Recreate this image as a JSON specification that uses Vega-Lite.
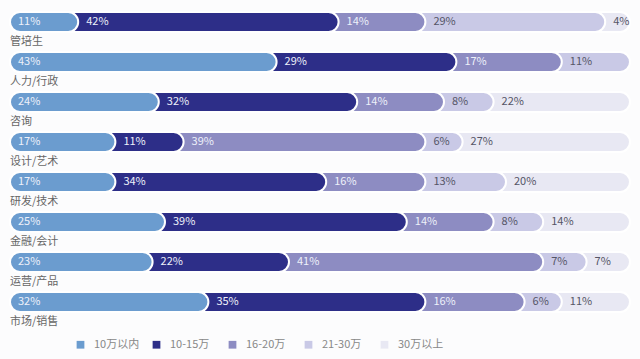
{
  "$schema": "https://vega.github.io/schema/vega-lite/v6.json",
  "autosize": "none",
  "width": 620,
  "height": 320,
  "padding": {"left": 10, "top": 2, "right": 10, "bottom": 37},
  "background": "#fcfcfd",
  "config": {"view": {"stroke": null}, "font": "Noto Sans CJK SC"},
  "data": {
    "values": [
      {"category": "管培生", "bracket": "10万以内", "k": 1, "value": 11},
      {"category": "管培生", "bracket": "10-15万", "k": 2, "value": 42},
      {"category": "管培生", "bracket": "16-20万", "k": 3, "value": 14},
      {"category": "管培生", "bracket": "21-30万", "k": 4, "value": 29},
      {"category": "管培生", "bracket": "30万以上", "k": 5, "value": 4},
      {"category": "人力/行政", "bracket": "10万以内", "k": 1, "value": 43},
      {"category": "人力/行政", "bracket": "10-15万", "k": 2, "value": 29},
      {"category": "人力/行政", "bracket": "16-20万", "k": 3, "value": 17},
      {"category": "人力/行政", "bracket": "21-30万", "k": 4, "value": 11},
      {"category": "咨询", "bracket": "10万以内", "k": 1, "value": 24},
      {"category": "咨询", "bracket": "10-15万", "k": 2, "value": 32},
      {"category": "咨询", "bracket": "16-20万", "k": 3, "value": 14},
      {"category": "咨询", "bracket": "21-30万", "k": 4, "value": 8},
      {"category": "咨询", "bracket": "30万以上", "k": 5, "value": 22},
      {"category": "设计/艺术", "bracket": "10万以内", "k": 1, "value": 17},
      {"category": "设计/艺术", "bracket": "10-15万", "k": 2, "value": 11},
      {"category": "设计/艺术", "bracket": "16-20万", "k": 3, "value": 39},
      {"category": "设计/艺术", "bracket": "21-30万", "k": 4, "value": 6},
      {"category": "设计/艺术", "bracket": "30万以上", "k": 5, "value": 27},
      {"category": "研发/技术", "bracket": "10万以内", "k": 1, "value": 17},
      {"category": "研发/技术", "bracket": "10-15万", "k": 2, "value": 34},
      {"category": "研发/技术", "bracket": "16-20万", "k": 3, "value": 16},
      {"category": "研发/技术", "bracket": "21-30万", "k": 4, "value": 13},
      {"category": "研发/技术", "bracket": "30万以上", "k": 5, "value": 20},
      {"category": "金融/会计", "bracket": "10万以内", "k": 1, "value": 25},
      {"category": "金融/会计", "bracket": "10-15万", "k": 2, "value": 39},
      {"category": "金融/会计", "bracket": "16-20万", "k": 3, "value": 14},
      {"category": "金融/会计", "bracket": "21-30万", "k": 4, "value": 8},
      {"category": "金融/会计", "bracket": "30万以上", "k": 5, "value": 14},
      {"category": "运营/产品", "bracket": "10万以内", "k": 1, "value": 23},
      {"category": "运营/产品", "bracket": "10-15万", "k": 2, "value": 22},
      {"category": "运营/产品", "bracket": "16-20万", "k": 3, "value": 41},
      {"category": "运营/产品", "bracket": "21-30万", "k": 4, "value": 7},
      {"category": "运营/产品", "bracket": "30万以上", "k": 5, "value": 7},
      {"category": "市场/销售", "bracket": "10万以内", "k": 1, "value": 32},
      {"category": "市场/销售", "bracket": "10-15万", "k": 2, "value": 35},
      {"category": "市场/销售", "bracket": "16-20万", "k": 3, "value": 16},
      {"category": "市场/销售", "bracket": "21-30万", "k": 4, "value": 6},
      {"category": "市场/销售", "bracket": "30万以上", "k": 5, "value": 11}
    ]
  },
  "transform": [
    {"stack": "value", "groupby": ["category"], "sort": [{"field": "k", "order": "ascending"}], "as": ["x0", "x1"]}
  ],
  "encoding": {
    "y": {
      "field": "category",
      "type": "nominal",
      "sort": ["管培生", "人力/行政", "咨询", "设计/艺术", "研发/技术", "金融/会计", "运营/产品", "市场/销售"],
      "axis": null,
      "scale": {"paddingInner": 0.5, "paddingOuter": 0.25}
    }
  },
  "layer": [
    {
      "mark": {"type": "bar", "cornerRadiusEnd": 10, "stroke": "#ffffff", "strokeWidth": 2},
      "encoding": {
        "x": {"field": "x1", "type": "quantitative", "stack": null, "axis": null, "scale": {"domain": [0, 100], "nice": false, "zero": true}},
        "x2": {"datum": 0},
        "order": {"field": "k", "sort": "descending"},
        "color": {
          "field": "bracket",
          "type": "nominal",
          "scale": {
            "domain": ["10万以内", "10-15万", "16-20万", "21-30万", "30万以上"],
            "range": ["#6b9ccf", "#2d2e88", "#8d8cc2", "#c9c9e6", "#e8e8f3"]
          },
          "legend": {
            "title": null,
            "orient": "none",
            "direction": "horizontal",
            "legendX": 65,
            "legendY": 337,
            "symbolType": "square",
            "symbolSize": 60,
            "symbolStrokeWidth": 0,
            "labelFontSize": 11,
            "labelColor": "#888888",
            "labelOffset": 8,
            "columnPadding": 11,
            "gridAlign": "all"
          }
        }
      }
    },
    {
      "transform": [{"calculate": "datum.value + '%'", "as": "label"}],
      "mark": {"type": "text", "align": "left", "baseline": "middle", "dx": 8, "fontSize": 11},
      "encoding": {
        "x": {"field": "x0", "type": "quantitative"},
        "text": {"field": "label", "type": "nominal"},
        "color": {"condition": {"test": "datum.k >= 4", "value": "#555566"}, "value": "#eef1fa"}
      }
    },
    {
      "transform": [{"filter": "datum.k == 1"}],
      "mark": {"type": "text", "align": "left", "baseline": "middle", "dy": 20, "fontSize": 11, "color": "#666666"},
      "encoding": {
        "x": {"datum": 0},
        "text": {"field": "category", "type": "nominal"}
      }
    }
  ]
}
